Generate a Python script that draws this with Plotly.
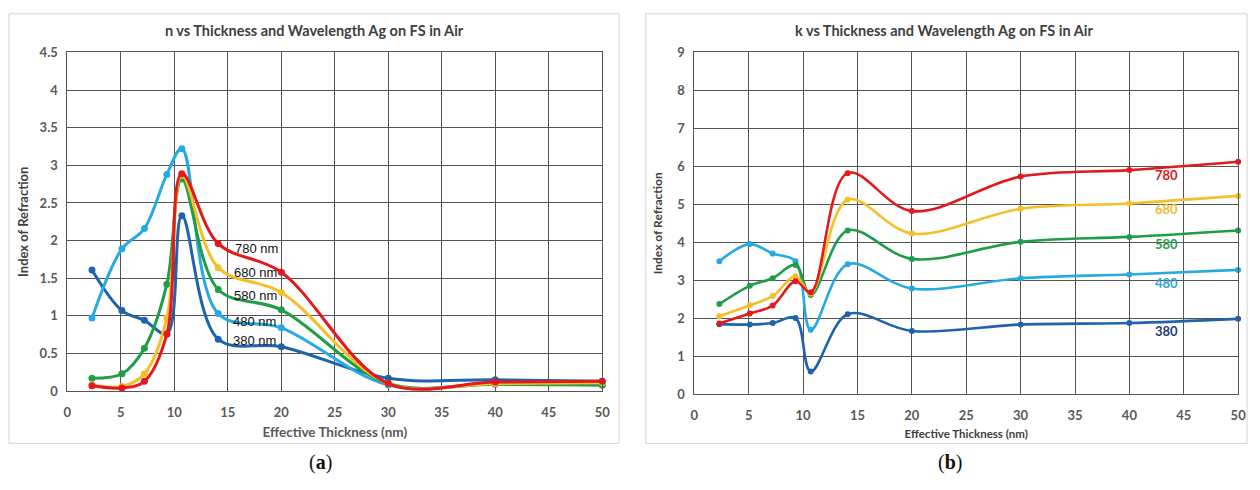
import plotly.graph_objects as go

W, H = 1260, 490

# Effective thickness (nm) of the Ag films
thickness = [2.3, 5.1, 7.2, 9.3, 10.7, 14.1, 20, 30, 40, 50]

# Refractive index n per wavelength
n_380 = [1.61, 1.07, 0.94, 0.76, 2.33, 0.69, 0.59, 0.17, 0.15, 0.13]
n_480 = [0.97, 1.89, 2.16, 2.88, 3.22, 1.03, 0.84, 0.08, 0.10, 0.08]
n_580 = [0.17, 0.23, 0.57, 1.42, 2.82, 1.35, 1.08, 0.10, 0.09, 0.08]
n_680 = [0.08, 0.06, 0.23, 0.97, 2.87, 1.64, 1.31, 0.10, 0.10, 0.11]
n_780 = [0.07, 0.04, 0.13, 0.76, 2.89, 1.96, 1.58, 0.10, 0.12, 0.13]

# Extinction coefficient k per wavelength
k_380 = [1.84, 1.83, 1.87, 2.00, 0.59, 2.10, 1.66, 1.83, 1.87, 1.98]
k_480 = [3.50, 3.95, 3.70, 3.50, 1.69, 3.42, 2.78, 3.05, 3.15, 3.27]
k_580 = [2.37, 2.85, 3.05, 3.40, 2.61, 4.31, 3.56, 4.01, 4.14, 4.31]
k_680 = [2.05, 2.34, 2.58, 3.10, 2.65, 5.12, 4.23, 4.88, 5.02, 5.22]
k_780 = [1.86, 2.12, 2.33, 2.97, 2.68, 5.82, 4.82, 5.73, 5.90, 6.12]

wavelengths = ["380", "480", "580", "680", "780"]
line_colors = ["#1f63ad", "#27a9e1", "#1f9d49", "#f5bf27", "#e4191d"]
label_colors = ["#1f3d7a", "#2aa3dc", "#27a04a", "#f2bb2c", "#d8191f"]

# Curve label anchor points
n_label_x = [17.5, 17.5, 17.6, 17.6, 17.7]
n_label_y = [0.67, 0.93, 1.27, 1.58, 1.89]
k_label_x = [43.4, 43.4, 43.4, 43.4, 43.4]
k_label_y = [1.67, 2.92, 3.96, 4.88, 5.78]

n_series = [n_380, n_480, n_580, n_680, n_780]
k_series = [k_380, k_480, k_580, k_680, k_780]


def px_x(v):
    return v / W


def px_y(v):
    return 1 - v / H


fig = go.Figure()

for name, ys, col in zip(wavelengths, n_series, line_colors):
    fig.add_trace(go.Scatter(
        x=thickness, y=ys, name=name + " nm", mode="lines+markers",
        line=dict(color=col, width=3, shape="spline", smoothing=1.0),
        marker=dict(color=col, size=7), cliponaxis=False,
        xaxis="x", yaxis="y", showlegend=False))

for name, ys, col in zip(wavelengths, k_series, line_colors):
    fig.add_trace(go.Scatter(
        x=thickness, y=ys, name=name, mode="lines+markers",
        line=dict(color=col, width=2.6, shape="spline", smoothing=1.0),
        marker=dict(color=col, size=6), cliponaxis=False,
        xaxis="x2", yaxis="y2", showlegend=False))

tick_font = dict(family="Lato", size=13, color="#595959", weight="bold")
grid = "#555555"

common_x = dict(range=[0, 50], tickvals=list(range(0, 51, 5)), showgrid=True,
                gridcolor=grid, gridwidth=1, showline=True, linecolor=grid,
                mirror=True, zeroline=False, tickfont=tick_font, ticks="",
                ticklabelstandoff=9, fixedrange=True)

common_y = dict(showgrid=True, gridcolor=grid, showline=True, linecolor=grid,
                mirror=True, zeroline=False, tickfont=tick_font, ticks="",
                ticklabelstandoff=6, fixedrange=True)

fig.update_layout(
    width=W, height=H, margin=dict(l=0, r=0, t=0, b=0),
    paper_bgcolor="white", plot_bgcolor="white",
    xaxis=dict(common_x, domain=[px_x(64), px_x(604)], anchor="y",
               title=dict(text="Effective Thickness (nm)", standoff=8,
                          font=dict(family="Lato", size=13.5, color="#595959", weight="bold"))),
    yaxis=dict(common_y, domain=[px_y(396), px_y(46)], anchor="x", range=[0, 4.5],
               tickvals=[i * 0.5 for i in range(10)],
               title=dict(text="Index of Refraction", standoff=8,
                          font=dict(family="Lato", size=13, color="#404040", weight="bold"))),
    xaxis2=dict(common_x, domain=[px_x(697), px_x(1246)], anchor="y2",
                title=dict(text="Effective Thickness (nm)", standoff=8,
                           font=dict(family="Lato", size=11.5, color="#404040", weight="bold"))),
    yaxis2=dict(common_y, domain=[px_y(399), px_y(46)], anchor="x2", range=[0, 9],
                tickvals=list(range(10)),
                title=dict(text="Index of Refraction", standoff=12,
                           font=dict(family="Lato", size=12, color="#404040", weight="bold"))),
)

# Panel frames
for x0, x1 in [(5, 621), (648, 1255)]:
    fig.add_shape(type="rect", xref="paper", yref="paper",
                  x0=px_x(x0), x1=px_x(x1), y0=px_y(450), y1=px_y(6),
                  line=dict(color="#d4d4d4", width=1), layer="below")

# Panel titles
fig.add_annotation(text="n vs Thickness and Wavelength Ag on FS in Air",
                   xref="paper", yref="paper", x=px_x(313), y=px_y(23),
                   xanchor="center", yanchor="middle", showarrow=False,
                   font=dict(family="Lato", size=14.5, color="#404040", weight="bold"))
fig.add_annotation(text="k vs Thickness and Wavelength Ag on FS in Air",
                   xref="paper", yref="paper", x=px_x(949), y=px_y(23),
                   xanchor="center", yanchor="middle", showarrow=False,
                   font=dict(family="Lato", size=14.5, color="#404040", weight="bold"))

# Curve labels
for name, lx, ly in zip(wavelengths, n_label_x, n_label_y):
    fig.add_annotation(text=name + " nm", x=lx, y=ly, xref="x", yref="y",
                       xanchor="center", yanchor="middle", showarrow=False,
                       font=dict(family="Liberation Sans", size=13, color="#111111"))
for name, lx, ly, col in zip(wavelengths, k_label_x, k_label_y, label_colors):
    fig.add_annotation(text=name, x=lx, y=ly, xref="x2", yref="y2",
                       xanchor="center", yanchor="middle", showarrow=False,
                       font=dict(family="Lato", size=13, color=col, weight="bold"))

# Sub-figure captions
for cap, cx in [("(<b>a</b>)", 320), ("(<b>b</b>)", 955)]:
    fig.add_annotation(text=cap, xref="paper", yref="paper", x=px_x(cx), y=px_y(470),
                       xanchor="center", yanchor="middle", showarrow=False,
                       font=dict(family="Liberation Serif", size=20, color="#111111"))

fig.write_html("out.html")
